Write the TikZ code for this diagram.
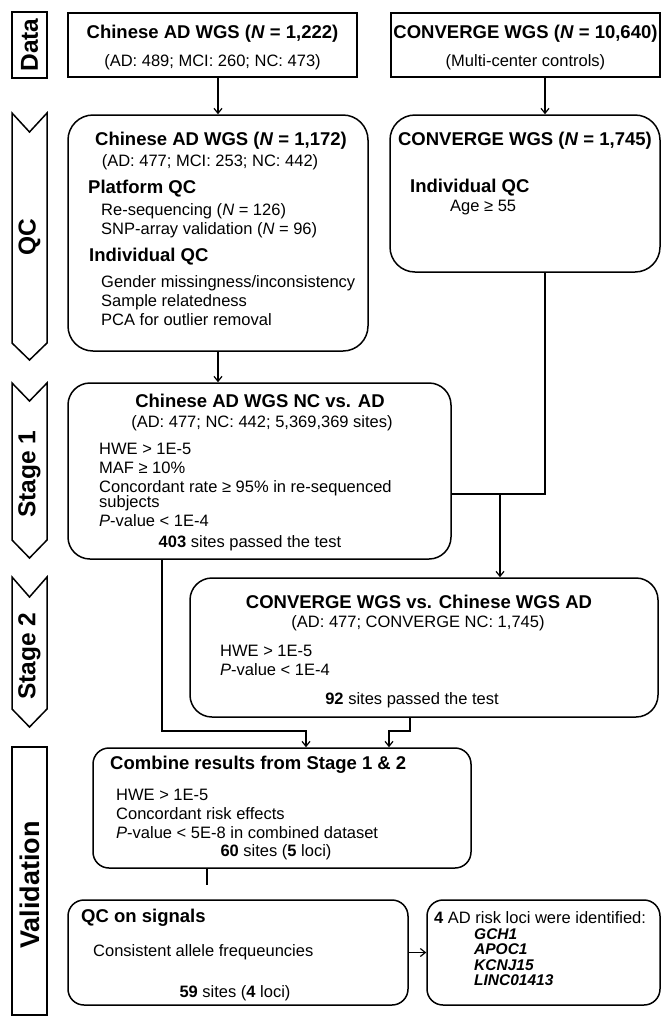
\documentclass[tikz,border=0pt]{standalone}
\usepackage{fontspec}
\setmainfont{Liberation Sans}
\usetikzlibrary{shapes,arrows.meta,calc}
\tikzstyle{arrow} = [line width=1.2pt,-{Straight Barb[length=5pt,width=8pt]}]
\tikzstyle{link} = [line width=1.2pt]
\tikzstyle{sharpbox} = [draw,line width=1.5pt,rectangle,inner sep=0pt]
\tikzstyle{roundbox} = [draw,line width=1.5pt,rectangle,inner sep=0pt,rounded corners=22pt]
\tikzstyle{stagetag} = [line width=1.5pt,line join=miter]
\tikzstyle{tagtext} = [rotate=90,inner sep=0pt,font=\fontsize{24.5}{24.5}\selectfont\bfseries]
\tikzstyle{head} = [inner sep=0pt,font=\fontsize{18.5}{21}\selectfont\bfseries]
\tikzstyle{body} = [inner sep=0pt,align=left,font=\fontsize{16.5}{19}\selectfont]
\tikzstyle{gene} = [inner sep=0pt,align=left,font=\fontsize{15.5}{15.5}\selectfont\bfseries\itshape]

\begin{document}
\begin{tikzpicture}[x=1pt,y=-1pt]
    \fill[white] (0,0) rectangle (667,1018);
    \useasboundingbox (0,0) rectangle (667,1018);

    % stage tags on the left
    \draw[stagetag] (12,12) rectangle (47,78);
    \node[tagtext] (tagData) at (29.5,45) {Data};
    \draw[stagetag] (12,113) -- (29.5,132) -- (47,113) -- (47,343) -- (29.5,360) -- (12,343) -- cycle;
    \node[tagtext] (tagQC) at (29.5,237) {QC};
    \draw[stagetag] (12,383) -- (29.5,401) -- (47,383) -- (47,540) -- (29.5,558) -- (12,540) -- cycle;
    \node[tagtext] (tagOne) at (29.5,474) {Stage 1};
    \draw[stagetag] (12,577) -- (29.5,597) -- (47,577) -- (47,709) -- (29.5,727) -- (12,709) -- cycle;
    \node[tagtext] (tagTwo) at (29.5,656) {Stage 2};
    \draw[stagetag] (12,747) rectangle (47,1015);
    \node[tagtext,font=\fontsize{27}{27}\selectfont\bfseries] (tagVal) at (29.5,885) {Validation};

    % data
    \node[sharpbox,minimum width=289pt,minimum height=64pt] (rawAD) at (212.5,45) {};
    \node[head] (rawADtitle) at (212.5,34) {Chinese AD WGS (\textit{N} = 1,222)};
    \node[body] (rawADsub) at (212.5,62) {(AD: 489; MCI: 260; NC: 473)};
    \node[sharpbox,minimum width=269pt,minimum height=64pt] (rawCV) at (525.5,45) {};
    \node[head] (rawCVtitle) at (525.5,34) {CONVERGE WGS (\textit{N} = 10,640)};
    \node[body] (rawCVsub) at (525.5,62) {(Multi-center controls)};

    % qc
    \node[roundbox,rounded corners=25pt,minimum width=300pt,minimum height=236pt] (qcAD) at (218,233) {};
    \node[head] (qcADtitle) at (221,141) {Chinese AD WGS (\textit{N} = 1,172)};
    \node[body] (qcADsub) at (210,162) {(AD: 477; MCI: 253; NC: 442)};
    \node[head,anchor=west] (qcADplat) at (88,189) {Platform QC};
    \node[body,anchor=west] (qcADplatlist) at (101,221) {Re-sequencing (\textit{N} = 126)\\SNP-array validation (\textit{N} = 96)};
    \node[head,anchor=west] (qcADind) at (89,257) {Individual QC};
    \node[body,anchor=west] (qcADindlist) at (101,301) {Gender missingness/inconsistency\\Sample relatedness\\PCA for outlier removal};
    \node[roundbox,rounded corners=25pt,minimum width=270pt,minimum height=157pt] (qcCV) at (525,193.5) {};
    \node[head] (qcCVtitle) at (525,141) {CONVERGE WGS (\textit{N} = 1,745)};
    \node[head,anchor=west] (qcCVind) at (410,188) {Individual QC};
    \node[body,anchor=west] (qcCVage) at (450,208) {Age ≥ 55};

    % stage 1
    \node[roundbox,minimum width=383pt,minimum height=176pt] (stageOne) at (259.5,471) {};
    \node[head] (stageOnetitle) at (260,401) {Chinese AD WGS NC vs. AD};
    \node[body] (stageOnesub) at (262,423) {(AD: 477; NC: 442; 5,369,369 sites)};
    \node[body,anchor=west] (stageOnelist) at (99,485) {HWE > 1E-5\\MAF ≥ 10\%\\Concordant rate ≥ 95\% in re-sequenced\\[-4.5pt]subjects\\\textit{P}-value < 1E-4};
    \node[body] (stageOnepass) at (250,543) {\textbf{403} sites passed the test};

    % stage 2
    \node[roundbox,minimum width=468pt,minimum height=139pt] (stageTwo) at (424,647.5) {};
    \node[head] (stageTwotitle) at (419,602) {CONVERGE WGS vs. Chinese WGS AD};
    \node[body] (stageTwosub) at (418,623) {(AD: 477; CONVERGE NC: 1,745)};
    \node[body,anchor=west] (stageTwolist) at (220,660) {HWE > 1E-5\\\textit{P}-value < 1E-4};
    \node[body] (stageTwopass) at (412,700) {\textbf{92} sites passed the test};

    % validation
    \node[roundbox,rounded corners=16pt,minimum width=378pt,minimum height=120pt] (combine) at (282,808) {};
    \node[head,anchor=west] (combinetitle) at (110,765) {Combine results from Stage 1 \& 2};
    \node[body,anchor=west] (combinelist) at (116,814) {HWE > 1E-5\\Concordant risk effects\\\textit{P}-value < 5E-8 in combined dataset};
    \node[body] (combinepass) at (276,852) {\textbf{60} sites (\textbf{5} loci)};
    \node[roundbox,rounded corners=16pt,minimum width=340pt,minimum height=105pt] (signalQC) at (238,952.5) {};
    \node[head,anchor=west] (signalQCtitle) at (81,918) {QC on signals};
    \node[body,anchor=west] (signalQCtext) at (93,952) {Consistent allele frequeuncies};
    \node[body] (signalQCpass) at (235,993) {\textbf{59} sites (\textbf{4} loci)};
    \node[roundbox,rounded corners=16pt,minimum width=233pt,minimum height=105pt] (riskLoci) at (543.5,952.5) {};
    \node[body,anchor=west] (riskLocitext) at (434,918) {\textbf{4} AD risk loci were identified:};
    \node[gene,anchor=west] (riskLocigenes) at (474,957) {GCH1\\APOC1\\KCNJ15\\LINC01413};

    % connectors
    \coordinate (cvline) at (545,0);
    \coordinate (joinOne) at (500,494);
    \coordinate (dropOne) at (162,0);
    \coordinate (dropTwo) at (410,0);
    \coordinate (joinTwo) at (306,731);
    \coordinate (joinThree) at (389,731);
    \coordinate (tail) at (207,885);
    \draw[arrow] (rawAD.south -| qcAD.north) -- (qcAD.north);
    \draw[arrow] (rawCV.south -| cvline) -- (qcCV.north -| cvline);
    \draw[arrow] (qcAD.south) -- (stageOne.north -| qcAD.south);
    \draw[link] (qcCV.south -| cvline) |- (stageOne.east |- joinOne);
    \draw[arrow] (joinOne) -- (stageTwo.north -| joinOne);
    \draw[arrow] (stageOne.south -| dropOne) |- (joinTwo) -- (combine.north -| joinTwo);
    \draw[arrow] (stageTwo.south -| dropTwo) |- (joinThree) -- (combine.north -| joinThree);
    \draw[link] (combine.south -| tail) -- (tail);
    \draw[arrow] (signalQC.east) -- (riskLoci.west);
\end{tikzpicture}
\end{document}
